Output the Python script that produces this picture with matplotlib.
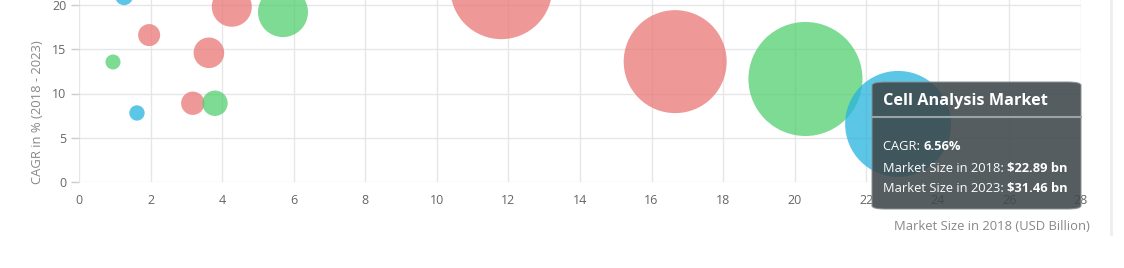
import matplotlib
matplotlib.use("Agg")
import matplotlib.pyplot as plt
from matplotlib.patches import FancyBboxPatch
from matplotlib.lines import Line2D
from matplotlib.text import Annotation
import numpy as np

plt.rcParams['font.family'] = ['Open Sans', 'DejaVu Sans']

# market data: 2018 size (x), CAGR (y), bubble size (z)
red_size_2018 = [1.96, 3.18, 3.63, 4.27, 11.8, 16.66]
red_cagr = [16.6, 8.9, 14.6, 19.8, 21.9, 13.6]
red_z = [1.36, 1.53, 2.62, 4.48, 29.1, 29.7]

green_size_2018 = [0.95, 3.80, 5.70, 20.3]
green_cagr = [13.56, 8.9, 19.2, 11.64]
green_z = [0.63, 1.81, 7.0, 36.4]

blue_size_2018 = [1.26, 1.62, 22.89]
blue_cagr = [21.0, 7.8, 6.56]
blue_z = [0.91, 0.66, 31.46]

tooltip_name = "Cell Analysis Market"
tooltip_idx = 2  # index in the blue series
tooltip_size_2023 = 31.46

x_ticks = list(range(0, 30, 2))
y_ticks = [0, 5, 10, 15, 20]

DPI = 100
W, H = 1124, 268


def marker_area(z):
    # bubble radius in px grows with sqrt(z), converted to points^2
    r_px = 9.45 * np.sqrt(np.asarray(z))
    return (2 * r_px * 72 / DPI) ** 2


fig = plt.figure(figsize=(W / DPI, H / DPI), dpi=DPI)
ax = fig.add_axes([79 / W, (H - 182) / H, (1081 - 79) / W, 182 / H])

ax.scatter(red_size_2018, red_cagr, s=marker_area(red_z), color=(0.918, 0.463, 0.463),
           alpha=0.75, linewidths=0, zorder=2)
ax.scatter(green_size_2018, green_cagr, s=marker_area(green_z), color=(0.32, 0.81, 0.44),
           alpha=0.75, linewidths=0, zorder=3)
ax.scatter(blue_size_2018, blue_cagr, s=marker_area(blue_z), color=(0.15, 0.70, 0.87),
           alpha=0.75, linewidths=0, zorder=4)

ax.set_xlim(0, 28)
ax.set_ylim(0, 182 / 8.85)
ax.set_xticks(x_ticks)
ax.set_yticks(y_ticks)
ax.grid(True, color='#e6e6e6', linewidth=1)
ax.set_axisbelow(True)
for sp in ax.spines.values():
    sp.set_visible(False)
ax.tick_params(axis='x', length=0, pad=9, labelsize=9, labelcolor='#666666')
ax.tick_params(axis='y', length=6, width=1, color='#cccccc', pad=3,
               labelsize=9, labelcolor='#666666')

fig.text(1090 / W, (H - 227) / H, "Market Size in 2018 (USD Billion)", ha='right',
         va='center', fontsize=9.4, color='#888888')
fig.text(38 / W, (H - 112) / H, "CAGR in % (2018 - 2023)", rotation=90, ha='center',
         va='center', fontsize=9.4, color='#888888')

# faint panel edge on the right
fig.add_artist(Line2D([1111 / W, 1111 / W], [(H - 234) / H, 1.0], color='#eeeeee',
                      linewidth=2))

# tooltip
x0, x1, y0, y1 = 872, 1081, 82, 209
box = FancyBboxPatch((x0 / W, (H - y1) / H), (x1 - x0) / W, (y1 - y0) / H,
                     boxstyle="round,pad=0,rounding_size=0.012", transform=fig.transFigure,
                     facecolor=(0.24, 0.28, 0.29), alpha=0.88, edgecolor='#8a9294',
                     linewidth=0.8, zorder=5)
fig.patches.append(box)
fig.add_artist(Line2D([x0 / W, x1 / W], [(H - 117) / H, (H - 117) / H], color='#9aa3a5',
                      linewidth=1.5, zorder=6))
fig.text(883 / W, (H - 101) / H, tooltip_name, ha='left', va='center', fontsize=11.7,
         fontweight='bold', color='white', zorder=7)

lines = [
    ("CAGR: ", f"{blue_cagr[tooltip_idx]:.2f}%", 147),
    ("Market Size in 2018: ", f"${blue_size_2018[tooltip_idx]:.2f} bn", 168),
    ("Market Size in 2023: ", f"${tooltip_size_2023:.2f} bn", 189),
]
for label, value, ypx in lines:
    t = fig.text(883 / W, (H - ypx) / H, label, ha='left', va='center', fontsize=9.3,
                 color='white', zorder=7)
    fig.add_artist(Annotation(value, xy=(1, 0), xycoords=t, ha='left', va='bottom',
                              fontsize=9.3, fontweight='bold', color='white', zorder=7))

fig.savefig("out.png", dpi=DPI)
